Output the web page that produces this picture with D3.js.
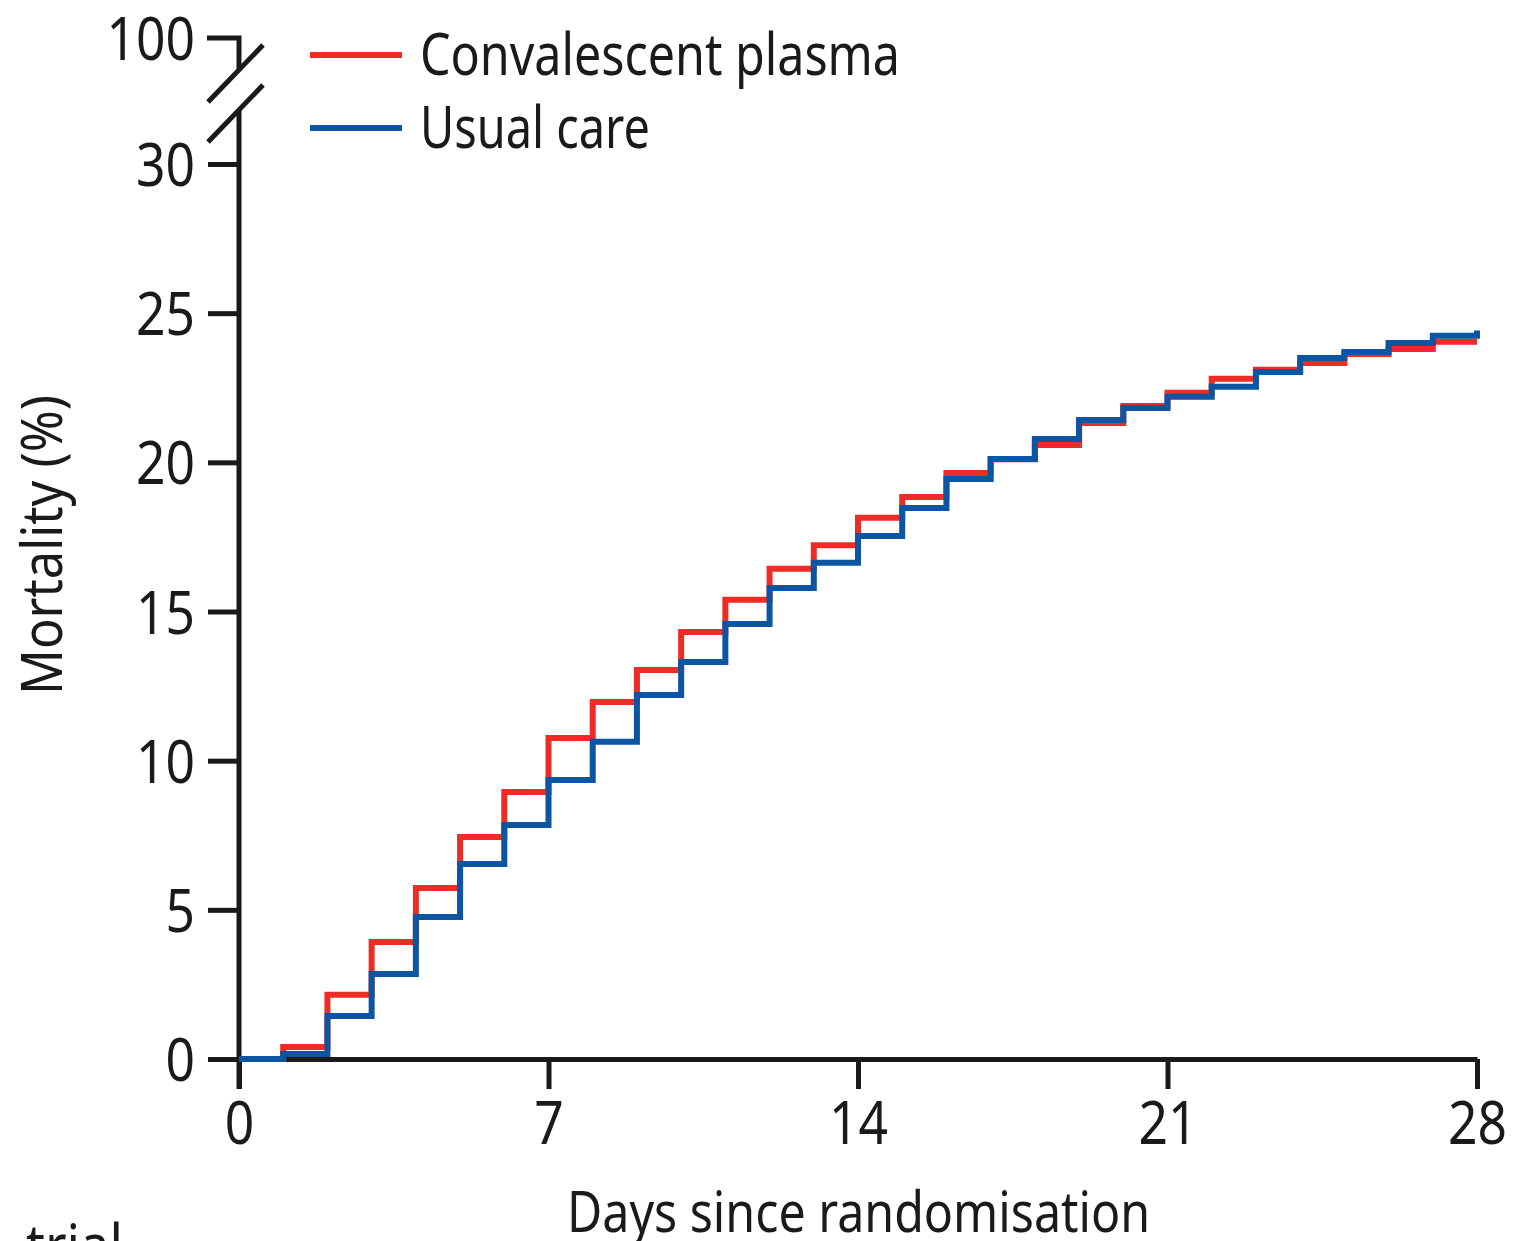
<!DOCTYPE html>
<html>
<head>
<meta charset="utf-8">
<script src="https://cdn.jsdelivr.net/npm/d3@7"></script>
<style>
  html, body { margin: 0; padding: 0; background: #fff; }
  svg { display: block; }
  text { font-family: "Noto Sans", "Open Sans", sans-serif; fill: #1a1a1a; }
</style>
</head>
<body>
<svg id="chart" width="1537" height="1241"></svg>
<script>
// Cumulative mortality (%) at the end of each day since randomisation (day 0..28)
const days = d3.range(0, 29);
const plasma = [0, 0.40, 2.15, 3.92, 5.73, 7.44, 8.95, 10.76, 11.97, 13.04, 14.31, 15.39, 16.43, 17.22,
                18.14, 18.84, 19.64, 20.10, 20.58, 21.32, 21.89, 22.33, 22.80, 23.10, 23.33, 23.63, 23.80, 24.04, 24.04];
const usualCare = [0, 0.17, 1.44, 2.85, 4.76, 6.54, 7.84, 9.35, 10.63, 12.20, 13.31, 14.58, 15.79, 16.63,
                   17.53, 18.47, 19.44, 20.11, 20.78, 21.42, 21.82, 22.20, 22.53, 23.03, 23.50, 23.70, 24.00, 24.24, 24.42];
const seriesNames = ["Convalescent plasma", "Usual care"];
const seriesColors = ["#ee2b25", "#0b55a3"];
const xTicks = [0, 7, 14, 21, 28];
const yTicks = [0, 5, 10, 15, 20, 25, 30];
const breakTick = 100;

const svg = d3.select("#chart");
const x = d3.scaleLinear().domain([0, 28]).range([239, 1477]);
const y = d3.scaleLinear().domain([0, 30]).range([1059, 164]);
const yBreakPos = y(30) - 126;   // position of the 100% tick above the axis break

const ink = "#1a1a1a";
const axisW = 5;
const narrow = 0.86;             // horizontal squeeze giving a condensed face

// x axis
const xAxis = svg.append("g").attr("transform", `translate(0,${y(0)})`)
  .call(d3.axisBottom(x).tickValues(xTicks).tickSize(30).tickSizeOuter(0).tickPadding(12));
xAxis.select(".domain").attr("stroke", ink).attr("stroke-width", axisW);
xAxis.selectAll(".tick line").attr("stroke", ink).attr("stroke-width", axisW);
xAxis.selectAll(".tick text").attr("font-size", 60).attr("fill", ink)
  .attr("transform", `scale(${narrow},1)`)
  .style("font-family", '"Noto Sans", sans-serif');

// y axis (lower segment, below the break)
const yAxis = svg.append("g").attr("transform", `translate(${x(0)},0)`)
  .call(d3.axisLeft(y).tickValues(yTicks).tickSize(31).tickSizeOuter(0).tickPadding(12));
yAxis.select(".domain").remove();
yAxis.selectAll(".tick line").attr("stroke", ink).attr("stroke-width", axisW);
yAxis.selectAll(".tick text").attr("font-size", 60).attr("fill", ink).attr("dy", "0.36em")
  .attr("x", -44 / narrow).attr("transform", `scale(${narrow},1)`)
  .style("font-family", '"Noto Sans", sans-serif');

// axis break: slash pair and the 100% tick
const slashDX = 55, slashDY = 57;
const slashX0 = x(0) - 31;
const upperSlashY = yBreakPos + 64;
const lowerSlashY = yBreakPos + 104;
const axisAt = (y0) => y0 - (x(0) - slashX0) * slashDY / slashDX;

svg.append("line").attr("x1", x(0)).attr("x2", x(0))
  .attr("y1", y(0) + 30).attr("y2", axisAt(lowerSlashY))
  .attr("stroke", ink).attr("stroke-width", axisW);
svg.append("path")
  .attr("d", `M${x(0) - 32},${yBreakPos}H${x(0)}V${axisAt(upperSlashY)}`)
  .attr("fill", "none").attr("stroke", ink).attr("stroke-width", axisW);
[upperSlashY, lowerSlashY].forEach(sy => {
  svg.append("line").attr("x1", slashX0).attr("y1", sy)
    .attr("x2", slashX0 + slashDX).attr("y2", sy - slashDY)
    .attr("stroke", ink).attr("stroke-width", axisW);
});
svg.append("text").attr("transform", `translate(${x(0) - 44},${yBreakPos}) scale(${narrow},1)`)
  .attr("dy", "0.36em").attr("text-anchor", "end").attr("font-size", 60).text(breakTick);

// step curves
const line = d3.line().curve(d3.curveStepAfter)
  .x((d, i) => x(days[i])).y(d => y(d));
[plasma, usualCare].forEach((vals, k) => {
  svg.append("path").datum(vals)
    .attr("d", line)
    .attr("fill", "none")
    .attr("stroke", seriesColors[k])
    .attr("stroke-width", 6);
});

// legend
const legendWidths = [480, 230];
seriesNames.forEach((name, k) => {
  const ly = 55 + k * 73;
  svg.append("line").attr("x1", 310).attr("x2", 402).attr("y1", ly).attr("y2", ly)
    .attr("stroke", seriesColors[k]).attr("stroke-width", 6);
  svg.append("text").attr("x", 420).attr("y", ly + 20).attr("font-size", 58)
    .attr("textLength", legendWidths[k]).attr("lengthAdjust", "spacingAndGlyphs").text(name);
});

// axis titles
svg.append("text").attr("x", 567).attr("y", 1232)
  .attr("font-size", 56).attr("textLength", 583).attr("lengthAdjust", "spacingAndGlyphs")
  .text("Days since randomisation");
svg.append("text").attr("transform", `translate(62,695) rotate(-90)`)
  .attr("font-size", 56).attr("textLength", 300).attr("lengthAdjust", "spacingAndGlyphs")
  .text("Mortality (%)");

// start of the caption below the chart
svg.append("text").attr("x", 26).attr("y", 1266).attr("font-size", 58)
  .attr("textLength", 97).attr("lengthAdjust", "spacingAndGlyphs").text("trial");
</script>
</body>
</html>
